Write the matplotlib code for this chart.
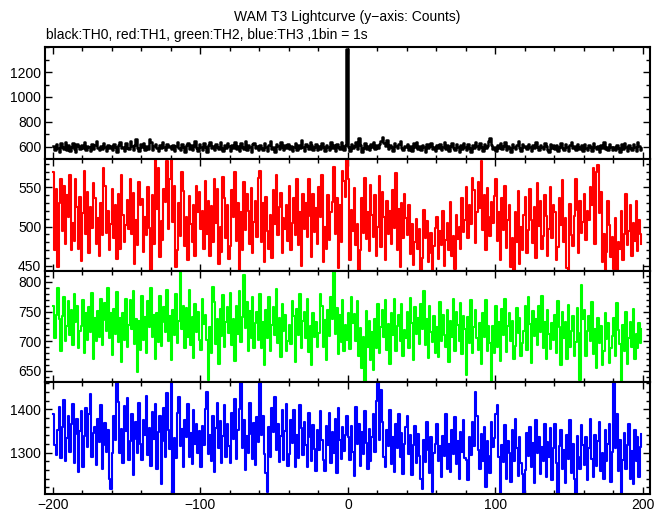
import numpy as np
import matplotlib
matplotlib.use("Agg")
import matplotlib.pyplot as plt
from matplotlib.ticker import MultipleLocator

plt.rcParams["font.family"] = ["Liberation Sans", "DejaVu Sans"]

# first bin start (s); 1 bin = 1 s
t_start = -200

th0_counts = [
    605, 572, 618, 590, 560, 627, 598, 581, 640, 575, 611, 566, 596, 632, 584, 558, 620, 603, 577, 614,
    589, 636, 570, 608, 594, 561, 625, 583, 612, 648, 592, 569, 603, 580, 629, 597, 564, 616, 587, 606,
    574, 621, 593, 555, 610, 637, 586, 600, 568, 626, 591, 579, 643, 605, 571, 612, 659, 588, 562, 618,
    597, 630, 575, 607, 583, 660, 641, 569, 602, 622, 590, 563, 615, 585, 637, 599, 572, 623, 594, 608,
    581, 616, 562, 604, 639, 587, 571, 625, 596, 558, 609, 633, 584, 611, 574, 602, 645, 590, 567, 620,
    600, 575, 628, 593, 556, 614, 640, 585, 606, 570, 623, 596, 581, 636, 592, 564, 610, 587, 629, 601,
    568, 612, 590, 635, 579, 603, 561, 626, 598, 584, 642, 570, 609, 594, 556, 618, 632, 588, 605, 576,
    614, 589, 571, 627, 600, 566, 611, 645, 583, 597, 560, 621, 605, 578, 638, 593, 569, 615, 591, 624,
    583, 608, 562, 599, 630, 574, 613, 588, 650, 596, 565, 619, 602, 581, 635, 609, 576, 593, 622, 571,
    606, 580, 627, 594, 561, 615, 600, 572, 638, 589, 609, 566, 624, 597, 582, 640, 603, 574, 616, 1385,
    598, 566, 620, 589, 604, 635, 578, 668, 611, 560, 592, 628, 584, 607, 573, 619, 596, 641, 582, 612,
    590, 625, 648, 678, 631, 601, 652, 579, 615, 594, 567, 629, 603, 585, 622, 646, 589, 571, 608, 596,
    618, 575, 602, 563, 627, 594, 640, 581, 608, 569, 614, 597, 559, 623, 586, 606, 633, 577, 600, 566,
    609, 587, 624, 571, 598, 637, 580, 612, 563, 603, 628, 590, 575, 619, 596, 556, 614, 584, 632, 599,
    574, 621, 592, 560, 611, 586, 639, 603, 578, 626, 595, 566, 617, 589, 604, 648, 672, 612, 581, 598,
    565, 615, 590, 628, 579, 603, 636, 572, 608, 591, 559, 622, 597, 583, 611, 642, 587, 568, 620, 594,
    606, 578, 625, 593, 561, 613, 589, 634, 600, 570, 616, 595, 580, 631, 604, 575, 558, 619, 592, 610,
    584, 612, 567, 600, 627, 590, 573, 618, 596, 562, 609, 636, 585, 601, 571, 623, 598, 578, 614, 565,
    619, 588, 572, 611, 597, 564, 626, 593, 579, 605, 558, 616, 590, 634, 582, 600, 569, 621, 594, 575,
    597, 570, 613, 588, 558, 620, 583, 629, 598, 566, 611, 590, 574, 624, 599, 567, 641, 605, 572, 588,
]

th1_counts = [
    570, 470, 548, 448, 530, 561, 495, 552, 478, 540, 512, 566, 470, 505, 482, 560, 525, 471, 538, 456,
    517, 571, 490, 544, 466, 525, 498, 556, 537, 478, 511, 463, 530, 489, 575, 552, 492, 520, 470, 503,
    548, 485, 527, 459, 541, 472, 566, 515, 481, 502, 534, 497, 561, 490, 543, 452, 509, 476, 557, 528,
    535, 468, 512, 489, 550, 498, 440, 540, 478, 586, 522, 574, 461, 507, 483, 548, 531, 584, 497, 560,
    589, 506, 552, 449, 470, 530, 488, 570, 545, 475, 512, 458, 539, 503, 481, 527, 462, 552, 519, 544,
    497, 520, 471, 558, 490, 533, 462, 526, 480, 561, 505, 548, 452, 500, 468, 563, 537, 486, 528, 459,
    475, 546, 512, 569, 482, 530, 445, 518, 470, 557, 496, 541, 520, 478, 549, 466, 506, 533, 487, 562,
    571, 480, 530, 455, 538, 494, 472, 515, 460, 547, 503, 566, 489, 525, 543, 466, 511, 497, 528, 482,
    552, 470, 505, 536, 489, 560, 476, 519, 450, 541, 497, 530, 487, 560, 513, 461, 542, 493, 524, 478,
    550, 512, 566, 455, 499, 471, 540, 483, 518, 531, 576, 490, 537, 447, 528, 480, 571, 558, 538, 592,
    560, 458, 521, 495, 549, 476, 503, 442, 470, 536, 492, 562, 484, 519, 469, 553, 515, 487, 540, 462,
    500, 565, 474, 544, 512, 457, 533, 491, 520, 478, 547, 498, 568, 470, 522, 449, 530, 486, 541, 511,
    489, 528, 465, 503, 451, 480, 510, 472, 497, 441, 460, 521, 485, 507, 455, 466, 492, 443, 475, 498,
    512, 459, 494, 477, 520, 450, 483, 505, 470, 531, 462, 488, 446, 515, 484, 499, 471, 536, 493, 508,
    550, 485, 527, 503, 562, 546, 479, 518, 557, 524, 583, 496, 540, 470, 549, 512, 488, 531, 505, 539,
    561, 482, 519, 458, 537, 496, 552, 473, 508, 527, 449, 485, 438, 519, 480, 545, 452, 500, 470, 515,
    538, 466, 496, 548, 508, 479, 525, 460, 556, 501, 532, 471, 488, 540, 514, 463, 497, 551, 485, 527,
    519, 458, 474, 536, 502, 559, 480, 511, 447, 438, 529, 489, 475, 513, 560, 521, 467, 533, 492, 506,
    541, 483, 520, 509, 551, 528, 575, 478, 570, 579, 517, 544, 455, 490, 445, 468, 533, 502, 461, 487,
    446, 511, 440, 480, 472, 520, 458, 490, 541, 476, 495, 527, 463, 504, 482, 532, 469, 509, 491, 478,
]

th2_counts = [
    760, 705, 745, 790, 738, 683, 742, 775, 700, 725, 768, 711, 752, 694, 779, 733, 760, 689, 718, 726,
    770, 680, 748, 702, 757, 715, 781, 671, 739, 700, 751, 708, 772, 694, 736, 765, 718, 790, 705, 748,
    677, 755, 712, 783, 698, 740, 665, 748, 703, 771, 690, 727, 769, 721, 785, 695, 738, 648, 735, 686,
    776, 702, 741, 681, 768, 724, 790, 708, 745, 670, 747, 699, 777, 692, 733, 758, 715, 786, 701, 742,
    668, 752, 710, 779, 697, 735, 818, 721, 760, 688, 756, 707, 787, 694, 741, 672, 763, 716, 749, 703,
    686, 771, 729, 744, 702, 634, 724, 681, 792, 767, 695, 738, 662, 754, 709, 778, 691, 733, 758, 714,
    782, 693, 737, 667, 759, 712, 784, 698, 741, 812, 722, 766, 684, 751, 705, 775, 688, 730, 749, 703,
    780, 689, 733, 660, 752, 706, 774, 683, 728, 757, 711, 788, 697, 740, 674, 763, 718, 745, 684, 700,
    727, 695, 768, 742, 665, 755, 710, 779, 688, 734, 750, 705, 771, 682, 726, 660, 748, 707, 732, 690,
    714, 780, 759, 691, 736, 668, 752, 709, 775, 738, 822, 712, 756, 678, 745, 699, 770, 684, 728, 703,
    748, 687, 774, 731, 746, 700, 768, 676, 722, 655, 708, 628, 751, 690, 735, 669, 715, 652, 738, 689,
    763, 680, 724, 753, 707, 770, 686, 729, 662, 748, 711, 771, 684, 726, 744, 701, 762, 675, 719, 706,
    750, 688, 773, 730, 669, 757, 713, 740, 696, 762, 720, 785, 693, 738, 672, 759, 716, 699, 742, 681,
    724, 673, 766, 701, 745, 710, 690, 753, 665, 734, 707, 771, 683, 749, 727, 700, 764, 678, 743, 721,
    643, 741, 697, 769, 681, 724, 752, 705, 686, 730, 662, 748, 708, 770, 684, 726, 697, 632, 725, 680,
    760, 690, 733, 666, 754, 711, 771, 682, 726, 747, 701, 735, 670, 692, 756, 714, 740, 675, 697, 718,
    759, 686, 774, 729, 664, 751, 709, 737, 693, 760, 716, 777, 688, 732, 670, 753, 712, 687, 730, 702,
    745, 681, 768, 724, 660, 749, 706, 733, 671, 761, 690, 718, 742, 676, 698, 756, 714, 634, 795, 738,
    752, 675, 718, 743, 700, 766, 678, 721, 655, 739, 697, 726, 660, 683, 747, 704, 731, 664, 688, 709,
    740, 676, 764, 719, 695, 632, 728, 684, 750, 662, 706, 733, 691, 755, 670, 712, 688, 731, 697, 720,
]

th3_counts = [
    1390, 1318, 1295, 1352, 1405, 1288, 1360, 1421, 1280, 1333, 1385, 1302, 1365, 1412, 1275, 1342, 1378, 1256, 1349, 1396,
    1268, 1338, 1402, 1312, 1389, 1436, 1290, 1345, 1358, 1272, 1377, 1324, 1410, 1263, 1317, 1369, 1301, 1352, 1240, 1216,
    1300, 1385, 1329, 1462, 1416, 1298, 1355, 1276, 1408, 1350, 1426, 1282, 1326, 1390, 1248, 1332, 1371, 1300, 1415, 1320,
    1284, 1376, 1341, 1430, 1295, 1357, 1270, 1393, 1332, 1413, 1262, 1348, 1385, 1228, 1327, 1402, 1289, 1437, 1352, 1308,
    1462, 1200, 1334, 1288, 1392, 1428, 1315, 1354, 1267, 1376, 1335, 1411, 1290, 1346, 1273, 1399, 1320, 1367, 1298, 1350,
    1268, 1362, 1318, 1401, 1439, 1296, 1340, 1280, 1385, 1255, 1357, 1414, 1311, 1372, 1276, 1338, 1409, 1290, 1365, 1315,
    1277, 1392, 1331, 1423, 1286, 1353, 1401, 1462, 1310, 1374, 1260, 1338, 1298, 1415, 1344, 1285, 1368, 1271, 1383, 1325,
    1462, 1340, 1385, 1296, 1254, 1210, 1360, 1290, 1402, 1347, 1427, 1305, 1366, 1279, 1338, 1398, 1284, 1350, 1413, 1270,
    1296, 1374, 1322, 1399, 1268, 1340, 1288, 1410, 1356, 1295, 1370, 1317, 1268, 1392, 1335, 1280, 1363, 1309, 1258, 1351,
    1305, 1396, 1330, 1283, 1257, 1362, 1318, 1391, 1275, 1347, 1300, 1378, 1252, 1402, 1330, 1286, 1359, 1304, 1341, 1385,
    1335, 1283, 1362, 1301, 1247, 1404, 1320, 1366, 1270, 1348, 1296, 1395, 1322, 1262, 1354, 1280, 1337, 1388, 1302, 1420,
    1462, 1330, 1445, 1370, 1290, 1267, 1351, 1315, 1398, 1273, 1335, 1255, 1367, 1310, 1390, 1290, 1345, 1251, 1321, 1360,
    1385, 1296, 1341, 1248, 1318, 1362, 1276, 1343, 1293, 1240, 1216, 1330, 1279, 1371, 1305, 1252, 1336, 1209, 1298, 1319,
    1366, 1280, 1315, 1245, 1338, 1292, 1390, 1262, 1321, 1256, 1351, 1296, 1381, 1273, 1326, 1240, 1348, 1301, 1375, 1288,
    1284, 1238, 1336, 1295, 1370, 1315, 1440, 1385, 1305, 1262, 1342, 1280, 1360, 1220, 1327, 1293, 1252, 1371, 1312, 1333,
    1388, 1410, 1290, 1200, 1318, 1278, 1364, 1240, 1326, 1298, 1232, 1351, 1280, 1377, 1310, 1246, 1336, 1275, 1250, 1200,
    1259, 1345, 1292, 1360, 1268, 1322, 1230, 1374, 1298, 1336, 1250, 1313, 1281, 1366, 1243, 1325, 1289, 1357, 1237, 1310,
    1367, 1275, 1200, 1316, 1352, 1262, 1306, 1229, 1340, 1286, 1375, 1254, 1320, 1240, 1200, 1338, 1290, 1263, 1363, 1318,
    1272, 1336, 1236, 1310, 1378, 1285, 1245, 1340, 1270, 1326, 1371, 1258, 1298, 1240, 1351, 1280, 1321, 1367, 1233, 1301,
    1462, 1310, 1390, 1258, 1330, 1200, 1284, 1345, 1262, 1318, 1365, 1240, 1303, 1227, 1352, 1280, 1335, 1244, 1312, 1342,
]

series = [th0_counts, th1_counts, th2_counts, th3_counts]
colors = ["black", "#ff0000", "#00ff00", "#0000ff"]
widths = [1.8, 1.5, 1.5, 1.5]
ylims = [(500, 1400), (444, 586), (631, 819), (1205, 1462)]
yticks = [[600, 800, 1000, 1200], [450, 500, 550], [650, 700, 750, 800], [1300, 1400]]
yminor = [100, 10, 10, 20]

fig, axes = plt.subplots(4, 1, figsize=(6.69, 5.15), dpi=100, sharex=True,
                         gridspec_kw={"hspace": 0})
fig.subplots_adjust(left=0.068, right=0.972, top=0.908, bottom=0.041)

for ax, y, c, lw, yl, yt, ym in zip(axes, series, colors, widths, ylims, yticks, yminor):
    t = np.arange(t_start, t_start + len(y))
    ax.step(t, y, where="post", color=c, linewidth=lw)
    ax.set_xlim(-205, 205)
    ax.set_ylim(*yl)
    ax.set_yticks(yt)
    ax.yaxis.set_minor_locator(MultipleLocator(ym))
    ax.xaxis.set_major_locator(MultipleLocator(100))
    ax.xaxis.set_minor_locator(MultipleLocator(20))
    ax.tick_params(which="both", direction="in", top=True, right=True, width=1,
                   labelsize=10, pad=3)
    ax.tick_params(which="major", length=5)
    ax.tick_params(which="minor", length=3)
    for s in ax.spines.values():
        s.set_linewidth(1.5)

fig.text(0.519, 0.967, "WAM T3 Lightcurve (y\u2212axis: Counts)", ha="center", va="center", fontsize=10)
fig.text(0.069, 0.932, "black:TH0, red:TH1, green:TH2, blue:TH3 ,1bin = 1s", ha="left", va="center", fontsize=10)

fig.savefig("out.png", dpi=100)
